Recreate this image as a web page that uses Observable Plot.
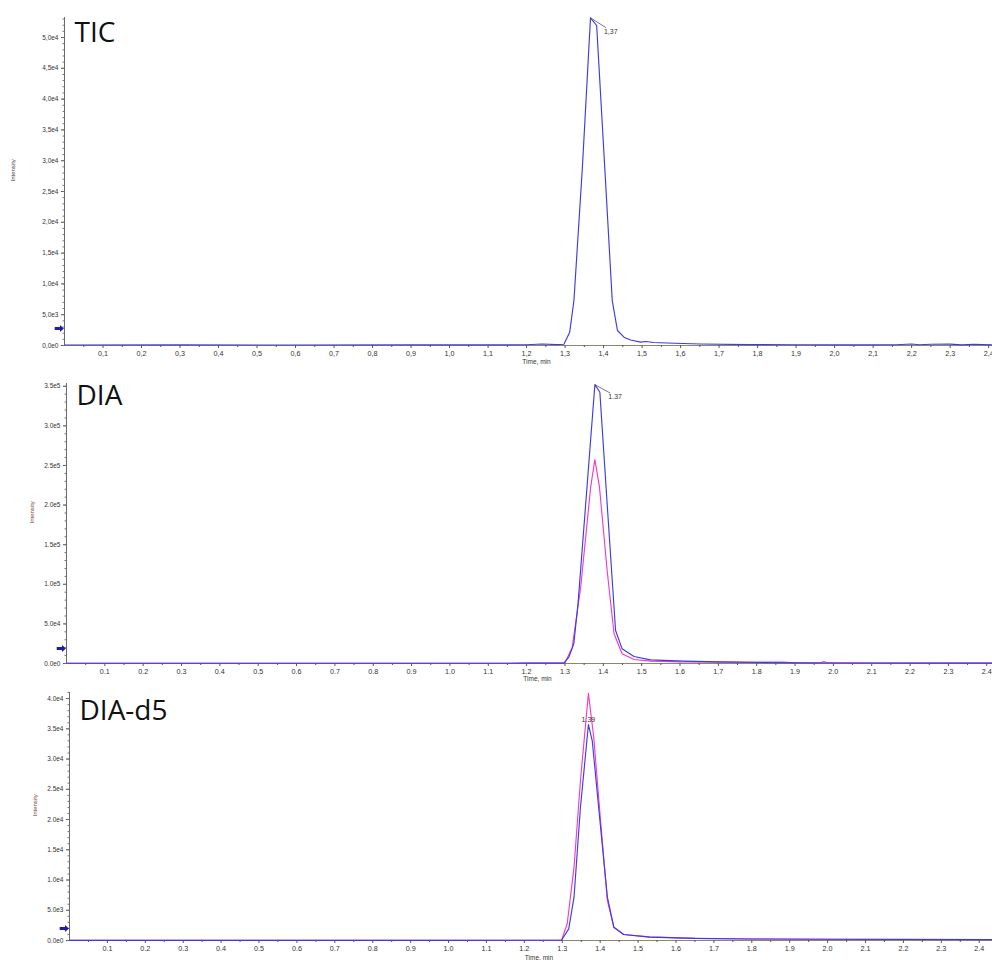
<!DOCTYPE html>
<html>
<head>
<meta charset="utf-8">
<script src="https://cdn.jsdelivr.net/npm/d3@7"></script>
<script src="https://cdn.jsdelivr.net/npm/@observablehq/plot@0.6"></script>
<style>
  html, body { margin: 0; padding: 0; background: #fff; }
  #chart { position: relative; width: 992px; height: 960px; overflow: hidden; }
  .panel { position: absolute; left: 0; }
  .panel svg { display: block; }
</style>
</head>
<body>
<div id="chart"></div>
<script>
// ---------- Data ----------
const panelTitles = ["TIC", "DIA", "DIA-d5"];
const xTickValues = [0.1,0.2,0.3,0.4,0.5,0.6,0.7,0.8,0.9,1.0,1.1,1.2,1.3,1.4,1.5,1.6,1.7,1.8,1.9,2.0,2.1,2.2,2.3,2.4];

// TIC (blue)
const ticTime = [0.0,0.3,0.6,0.9,1.1,1.2,1.24,1.28,1.297,1.312,1.323,1.345,1.366,1.382,1.403,1.4225,1.436,1.453,1.47,1.496,1.51,1.53,1.565,1.65,1.78,1.9,2.0,2.1,2.16,2.2,2.22,2.25,2.3,2.33,2.36,2.41];
const ticIntensity = [80,90,80,90,100,120,250,150,200,2160,7300,28950,53200,51950,28950,7300,2435,1350,900,540,650,480,400,250,150,120,110,100,120,240,120,200,220,100,200,90];
const ticPeak = {time: 1.366, intensity: 53200, label: "1,37"};
const ticArrow = 2760;

// DIA blue
const diaBlueTime = [0,0.5,1.0,1.2,1.297,1.31,1.323,1.334,1.378,1.391,1.41,1.432,1.449,1.48,1.523,1.61,1.7,1.8,1.9,2.0,2.2,2.415];
const diaBlueIntensity = [300,300,300,400,500,7950,24800,75400,352000,342500,201600,41660,18500,8800,4600,3000,2000,1200,800,600,500,400];
// DIA pink
const diaPinkTime = [0,0.5,1.0,1.2,1.30,1.319,1.341,1.367,1.378,1.39,1.41,1.428,1.449,1.48,1.523,1.6,1.7,1.8,1.87,1.9,1.965,1.975,1.985,2.1,2.415];
const diaPinkIntensity = [300,300,300,400,500,20600,96300,222600,257500,222600,117400,37500,12200,5000,3000,2000,1800,1800,1800,900,700,2500,700,600,400];
const diaPeak = {time: 1.378, intensity: 352000, label: "1.37"};
const diaArrow = 18900;

// DIA-d5 pink
const d5PinkTime = [0,0.5,1.0,1.2,1.298,1.313,1.331,1.348,1.369,1.383,1.401,1.419,1.436,1.462,1.53,1.65,1.8,2.0,2.435];
const d5PinkIntensity = [30,30,30,40,50,2760,12100,26450,40880,33600,19840,6600,2200,1000,600,350,250,200,150];
// DIA-d5 blue
const d5BlueTime = [0,0.5,1.0,1.2,1.298,1.317,1.331,1.348,1.369,1.379,1.401,1.419,1.436,1.462,1.53,1.65,1.8,2.0,2.435];
const d5BlueIntensity = [30,30,30,40,50,1930,7160,22040,35700,33060,18730,7160,2200,1000,550,350,250,200,150];
const d5Peak = {time: 1.369, intensity: 35700, label: "1.39"};
const d5Arrow = 1980;

// ---------- Helpers ----------
const BLUE = "#3c3ce4";
const PINK = "#f03cc8";
const zip = (t, v) => t.map((d, i) => ({time: d, intensity: v[i]}));

function range(a, b, step) {
  const out = [];
  for (let i = 0; a + i * step <= b + 1e-9; i++) out.push(+(a + i * step).toFixed(6));
  return out;
}

// small right-pointing arrow symbol (shaft + head)
const arrowSymbol = {
  draw(ctx, size) {
    const s = Math.sqrt(size) / 2;
    ctx.moveTo(-s * 1.5, -s * 0.4);
    ctx.lineTo(0, -s * 0.4);
    ctx.lineTo(0, -s);
    ctx.lineTo(s * 1.1, 0);
    ctx.lineTo(0, s);
    ctx.lineTo(0, s * 0.4);
    ctx.lineTo(-s * 1.5, s * 0.4);
    ctx.closePath();
  }
};

function panel(cfg) {
  const {top, height, marginLeft, marginTop, marginBottom, xMax, yMax, yStep, yMinor,
         comma, series, title, peak, leader, arrow, labelColor} = cfg;
  const sep = s => comma ? s.replace(".", ",") : s;
  const yFmt = d => sep(d.toExponential(1).replace("e+", "e"));
  const xFmt = d => sep(d.toFixed(1));
  const yMajor = range(0, yMax, yStep);
  const yMin = range(0, yMax, yMinor);
  const xMinor = range(0.05, xMax, 0.1);
  const font = "Liberation Sans, Arial, sans-serif";

  const marks = [
    Plot.ruleY([0], {stroke: "#8a8a6a", strokeWidth: 1}),
    Plot.ruleX([0], {stroke: "#6a6a6a", strokeWidth: 1}),
    Plot.axisX({ticks: xTickValues, tickSize: 3, tickPadding: 2, tickFormat: xFmt,
                fontSize: 7.2, fill: "#333", stroke: "#555", fontFamily: font, label: null}),
    Plot.axisX({ticks: xMinor, tickSize: 2, text: null, stroke: "#555", label: null}),
    Plot.axisY({ticks: yMajor, tickSize: 3, tickPadding: 3, tickFormat: yFmt,
                fontSize: 6.5, fill: "#333", stroke: "#555", fontFamily: font, label: null}),
    Plot.axisY({ticks: yMin, tickSize: 1.5, text: null, stroke: "#777", label: null}),
    Plot.text(["Intensity"], {frameAnchor: "left", rotate: -90, dx: cfg.yLabelDx,
                fontSize: 6, fill: labelColor, fontFamily: font}),
    Plot.text(["Time, min"], {frameAnchor: "bottom", dx: 8, dy: cfg.xLabelDy, lineAnchor: "middle",
                fontSize: 6.5, fill: "#333", fontFamily: font}),
    Plot.text([title], {frameAnchor: "top-left", dx: 10, dy: cfg.titleDy, lineAnchor: "top", textAnchor: "start",
                fontSize: 28, fill: "#111", fontFamily: "Open Sans, Noto Sans, sans-serif"}),
    Plot.dot([arrow], {x: 0, y: d => d, symbol: arrowSymbol, r: 4, dx: -4.5,
                fill: "#1c1ca8", stroke: "none"})
  ];
  for (const s of series) {
    marks.push(Plot.line(s.data, {x: "time", y: "intensity", stroke: s.color, strokeWidth: 1.15}));
  }
  if (leader) {
    marks.push(Plot.link([peak], {x1: "time", y1: "intensity",
      x2: d => d.time + 0.04, y2: d => d.intensity - yMax * 0.03, stroke: "#556", strokeWidth: 0.8}));
    marks.push(Plot.text([peak], {x: d => d.time + 0.035, y: d => d.intensity - yMax * 0.042,
      text: "label", textAnchor: "start", fontSize: 7, fill: "#333", fontFamily: font}));
  } else {
    marks.push(Plot.text([peak], {x: "time", y: "intensity", text: "label", dy: -5,
      textAnchor: "middle", fontSize: 7, fill: "#333", fontFamily: font}));
  }

  const svg = Plot.plot({
    width: 992, height, marginLeft, marginRight: 0, marginTop, marginBottom,
    x: {domain: [0, xMax], axis: null},
    y: {domain: [0, yMax], axis: null},
    style: {background: "transparent", overflow: "visible"},
    marks
  });
  const div = document.createElement("div");
  div.className = "panel";
  div.style.top = top + "px";
  div.appendChild(svg);
  document.getElementById("chart").appendChild(div);
}

panel({
  top: 0, height: 364, marginLeft: 64, marginTop: 17, marginBottom: 19,
  xMax: 2.41, yMax: 53250, yStep: 5000, yMinor: 1000, comma: true,
  series: [{data: zip(ticTime, ticIntensity), color: BLUE}],
  title: panelTitles[0], peak: ticPeak, leader: true, arrow: ticArrow,
  labelColor: "#444", yLabelDx: -51, xLabelDy: 16, titleDy: 5
});

panel({
  top: 364, height: 316, marginLeft: 66, marginTop: 19, marginBottom: 17,
  xMax: 2.415, yMax: 353500, yStep: 50000, yMinor: 10000, comma: false,
  series: [{data: zip(diaPinkTime, diaPinkIntensity), color: PINK},
           {data: zip(diaBlueTime, diaBlueIntensity), color: BLUE}],
  title: panelTitles[1], peak: diaPeak, leader: true, arrow: diaArrow,
  labelColor: "#7a4535", yLabelDx: -34, xLabelDy: 15.5, titleDy: 2
});

panel({
  top: 680, height: 280, marginLeft: 69, marginTop: 12, marginBottom: 20,
  xMax: 2.435, yMax: 41000, yStep: 5000, yMinor: 1000, comma: false,
  series: [{data: zip(d5PinkTime, d5PinkIntensity), color: PINK},
           {data: zip(d5BlueTime, d5BlueIntensity), color: BLUE}],
  title: panelTitles[2], peak: d5Peak, leader: false, arrow: d5Arrow,
  labelColor: "#7a4535", yLabelDx: -34, xLabelDy: 17, titleDy: 8
});
</script>
</body>
</html>
